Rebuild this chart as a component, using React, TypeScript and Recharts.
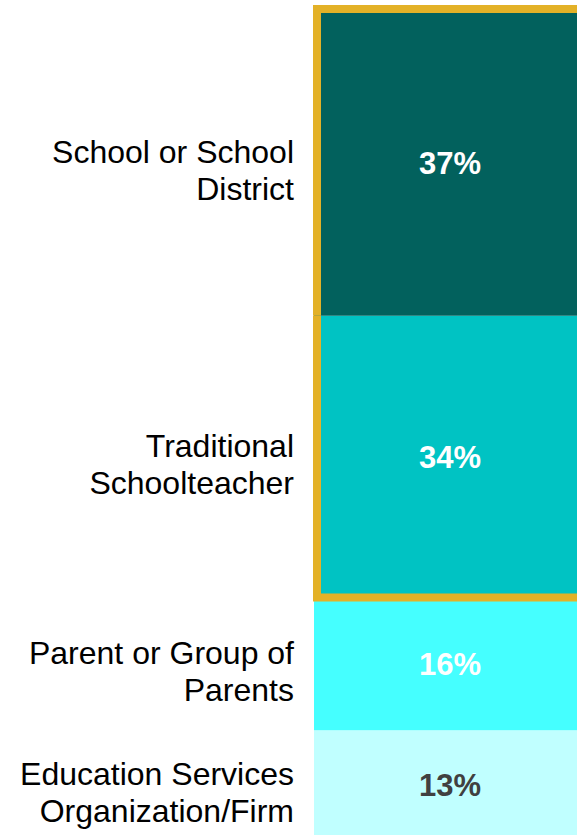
import React from "react";
import { BarChart, Bar, XAxis, YAxis, LabelList } from "recharts";

const categories = [
  "School or School District",
  "Traditional Schoolteacher",
  "Parent or Group of Parents",
  "Education Services Organization/Firm",
];
const categoryLines = [
  ["School or School", "District"],
  ["Traditional", "Schoolteacher"],
  ["Parent or Group of", "Parents"],
  ["Education Services", "Organization/Firm"],
];
const values = [37, 34, 16, 13];
const seriesKeys = ["school", "teacher", "parent", "edu"];
const fills = ["#02615D", "#00C3C3", "#45FFFF", "#C0FFFF"];
const valueLabelColors = ["#FFFFFF", "#FFFFFF", "#FFFFFF", "#404040"];
const highlighted = [0, 1];

const row: Record<string, any> = { group: "Total" };
seriesKeys.forEach((k, i) => {
  row[k] = values[i];
});
const data = [row];

const FONT = "'Liberation Sans', Arial, sans-serif";
const GOLD = "#E3B127";

const makeCategoryLabel = (i: number) => (props: any) => {
  const { x, y, height } = props;
  const lines = categoryLines[i];
  const cy = y + height / 2 + 8;
  const lh = 37;
  const startY = cy - ((lines.length - 1) * lh) / 2;
  return (
    <text
      x={x - 20}
      y={startY}
      textAnchor="end"
      fontFamily={FONT}
      fontSize={32}
      fill="#000000"
    >
      {lines.map((l, j) => (
        <tspan key={j} x={x - 20} y={startY + j * lh} dominantBaseline="central">
          {l}
        </tspan>
      ))}
    </text>
  );
};

const makeValueLabel = (i: number) => (props: any) => {
  const { x, y, width, height, value } = props;
  return (
    <text
      x={x + width / 2}
      y={y + height / 2 + 1}
      textAnchor="middle"
      dominantBaseline="central"
      fontFamily={FONT}
      fontSize={31}
      fontWeight="bold"
      fill={valueLabelColors[i]}
    >
      {value + "%"}
    </text>
  );
};

const makeShape = (i: number) => (props: any) => {
  const { x, y, width, height } = props;
  const isHi = highlighted.includes(i);
  const isTop = i === highlighted[0];
  const isBottom = i === highlighted[highlighted.length - 1];
  const lx = x + 3;
  const rx = x + width;
  let d = "";
  if (isHi) {
    const top = isTop ? y - 4 : y;
    const bottom = isBottom ? y + height + 4 : y + height;
    d += `M${lx},${top}L${lx},${bottom}`;
    d += `M${rx},${top}L${rx},${bottom}`;
    if (isTop) d += `M${lx - 4},${y}L${rx + 4},${y}`;
    if (isBottom) d += `M${lx - 4},${y + height}L${rx + 4},${y + height}`;
  }
  return (
    <g>
      <rect x={x} y={y} width={width} height={height} fill={fills[i]} />
      {isHi && <path d={d} stroke={GOLD} strokeWidth={8} fill="none" />}
    </g>
  );
};

export default function App() {
  const order = [...seriesKeys.keys()].reverse();
  return (
    <div
      style={{
        position: "absolute",
        left: 0,
        top: 0,
        width: 577,
        height: 835,
        overflow: "hidden",
        background: "#FFFFFF",
      }}
    >
      <BarChart
        width={600}
        height={838}
        data={data}
        margin={{ top: 9, right: 14, bottom: 0, left: 314 }}
        barCategoryGap={0}
      >
        <XAxis dataKey="group" hide />
        <YAxis type="number" domain={[0, 100]} hide />
        {order.map((i) => (
          <Bar
            key={seriesKeys[i]}
            dataKey={seriesKeys[i]}
            name={categories[i]}
            stackId="a"
            fill={fills[i]}
            shape={makeShape(i)}
            isAnimationActive={false}
          >
            <LabelList dataKey={seriesKeys[i]} content={makeValueLabel(i)} />
            <LabelList dataKey={seriesKeys[i]} content={makeCategoryLabel(i)} />
          </Bar>
        ))}
      </BarChart>
    </div>
  );
}
